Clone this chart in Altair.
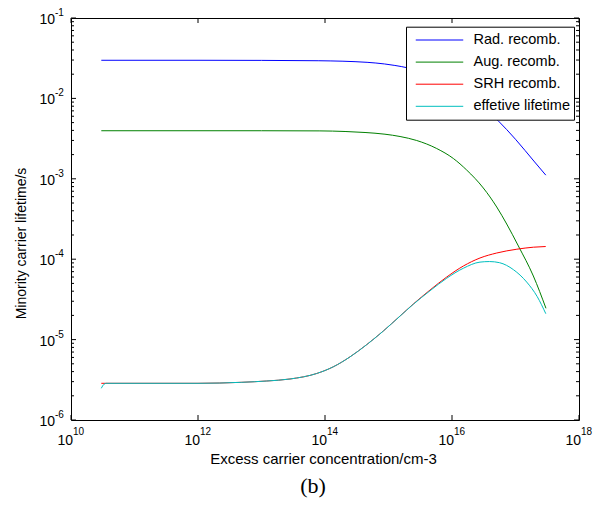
import altair as alt
import pandas as pd

FONT = "Liberation Sans"

series_names = ["Rad. recomb.", "Aug. recomb.", "SRH recomb.", "effetive lifetime"]
series_colors = ["#0000ff", "#008000", "#ff0000", "#00bfbf"]

rad_n = [3e10, 1e12, 1e13, 8e13, 4.6e14, 8.7e14, 1.26e15, 2e15, 5e15, 1e16, 2e16, 3.5e16, 5.3e16, 1e17, 2e17, 3e17]
rad_tau = [0.0298, 0.0298, 0.0297, 0.0294, 0.0281, 0.0268, 0.0257, 0.0240, 0.0195, 0.0150, 0.0102, 0.0072, 0.0053, 0.0031, 0.00162, 0.00111]

aug_n = [3e10, 1e13, 8.3e13, 2.07e14, 4.27e14, 8.8e14, 1.52e15, 2.78e15, 5.74e15, 1.05e16, 1.7e16, 3.11e16, 5.06e16, 7.27e16, 1.11e17, 1.91e17, 3.02e17]
aug_tau = [3.96e-3, 3.96e-3, 3.943e-3, 3.876e-3, 3.767e-3, 3.586e-3, 3.357e-3, 2.995e-3, 2.381e-3, 1.789e-3, 1.287e-3, 7.69e-4, 4.46e-4, 2.74e-4, 1.46e-4, 6.18e-5, 2.45e-5]

srh_n = [3e10, 1e12, 4.88e12, 1.21e13, 2.81e13, 7.4e13, 1.35e14, 2.48e14, 4.54e14, 8.28e14, 1.52e15, 2.46e15, 4.51e15, 8.26e15, 1.51e16, 2.76e16, 5.06e16, 1.05e17, 1.91e17, 2.99e17]
srh_tau = [2.86e-6, 2.86e-6, 2.944e-6, 3.056e-6, 3.236e-6, 3.789e-6, 4.588e-6, 6.108e-6, 8.665e-6, 1.279e-5, 1.966e-5, 2.772e-5, 4.139e-5, 6.005e-5, 8.23e-5, 1.035e-4, 1.194e-4, 1.331e-4, 1.41e-4, 1.438e-4]

eff_n = [3e10, 3.3e10, 3.6e10, 1e12, 4.88e12, 1.21e13, 2.81e13, 7.4e13, 1.35e14, 2.48e14, 4.54e14, 8.28e14, 1.52e15, 2.46e15, 4.51e15, 8.26e15, 1.51e16, 2.76e16, 3.9e16, 5.6e16, 9.3e16, 1.5e17, 2.2e17, 3.0e17]
eff_tau = [2.48e-6, 2.78e-6, 2.86e-6, 2.86e-6, 2.943e-6, 3.055e-6, 3.235e-6, 3.787e-6, 4.585e-6, 6.1e-6, 8.65e-6, 1.276e-5, 1.96e-5, 2.75e-5, 4.05e-5, 5.8e-5, 7.72e-5, 9.2e-5, 9.35e-5, 9.05e-5, 7.4e-5, 5.2e-5, 3.42e-5, 2.1e-5]

x_tick_values = [1e10, 1e12, 1e14, 1e16, 1e18]
x_tick_exps = ["10", "12", "14", "16", "18"]
y_tick_values = [1e-6, 1e-5, 1e-4, 1e-3, 1e-2, 1e-1]
y_tick_exps = ["-6", "-5", "-4", "-3", "-2", "-1"]
minor_mults = [2, 3, 4, 5, 6, 7, 8, 9]
minor_decades = [1e-6, 1e-5, 1e-4, 1e-3, 1e-2]

rows = []
for name, xs, ys in zip(series_names, [rad_n, aug_n, srh_n, eff_n], [rad_tau, aug_tau, srh_tau, eff_tau]):
    for i, (a, b) in enumerate(zip(xs, ys)):
        rows.append({"series": name, "n": a, "tau": b, "k": i})
df = pd.DataFrame(rows)

xt = pd.DataFrame({"v": x_tick_values, "e": x_tick_exps, "b": ["10"] * len(x_tick_values)})
yt = pd.DataFrame({"v": y_tick_values, "e": y_tick_exps, "b": ["10"] * len(y_tick_values)})
ym = pd.DataFrame({"v": [m * d for d in minor_decades for m in minor_mults]})

W, H = 508, 402
xscale = alt.Scale(type="log", domain=[1e10, 1e18], nice=False)
yscale = alt.Scale(type="log", domain=[1e-6, 1e-1], nice=False)

x_axis = alt.Axis(
    title="Excess carrier concentration/cm-3", domain=False, ticks=False, labels=False, grid=False,
    titleX=252, titleY=43.5, titleBaseline="alphabetic", titleAlign="center",
    titleFont=FONT, titleFontSize=15, titleFontWeight="normal", titleColor="black")
y_axis = alt.Axis(
    title="Minority carrier lifetime/s", domain=False, ticks=False, labels=False, grid=False,
    titleX=-45.5, titleY=225, titleAngle=270, titleBaseline="alphabetic", titleAlign="center",
    titleFont=FONT, titleFontSize=14, titleFontWeight="normal", titleColor="black")

lines = alt.Chart(df).mark_line(strokeWidth=1, interpolate="monotone").encode(
    x=alt.X("n:Q", scale=xscale, axis=x_axis),
    y=alt.Y("tau:Q", scale=yscale, axis=y_axis),
    color=alt.Color("series:N", scale=alt.Scale(domain=series_names, range=series_colors),
                    legend=alt.Legend(
                        title=None, orient="none", legendX=335, legendY=8.7,
                        symbolType="stroke", symbolSize=2256, symbolStrokeWidth=1,
                        padding=4, clipHeight=18.6, rowPadding=3.1, symbolOffset=5, labelOffset=9.5,
                        strokeColor="black", fillColor="white",
                        labelFont=FONT, labelFontSize=14.5, labelColor="black")),
    order="k:Q",
)

def xrule(y1, y2):
    return alt.Chart(xt).mark_rule(color="black", strokeWidth=1).encode(
        x=alt.X("v:Q", scale=xscale, axis=x_axis), y=alt.value(y1), y2=alt.value(y2))

def yrule(data, x1, x2):
    return alt.Chart(data).mark_rule(color="black", strokeWidth=1).encode(
        y=alt.Y("v:Q", scale=yscale, axis=y_axis), x=alt.value(x1), x2=alt.value(x2))

ticks = [
    xrule(H, H - 5), xrule(0, 5),
    yrule(yt, 0, 5), yrule(yt, W, W - 5),
    yrule(ym, 0, 3), yrule(ym, W, W - 3),
]

x_base = alt.Chart(xt).mark_text(align="right", baseline="alphabetic", dx=2, font=FONT, fontSize=14, color="black").encode(
    x=alt.X("v:Q", scale=xscale, axis=x_axis), y=alt.value(H + 25), text="b:N")
x_exp = alt.Chart(xt).mark_text(align="left", baseline="alphabetic", dx=2, font=FONT, fontSize=10, color="black").encode(
    x=alt.X("v:Q", scale=xscale, axis=x_axis), y=alt.value(H + 14.5), text="e:N")
y_base = alt.Chart(yt).mark_text(align="right", baseline="alphabetic", dy=6, font=FONT, fontSize=14, color="black").encode(
    y=alt.Y("v:Q", scale=yscale, axis=y_axis), x=alt.value(-16), text="b:N")
y_exp = alt.Chart(yt).mark_text(align="left", baseline="alphabetic", dy=-2, font=FONT, fontSize=10, color="black").encode(
    y=alt.Y("v:Q", scale=yscale, axis=y_axis), x=alt.value(-16), text="e:N")

cap = alt.Chart(pd.DataFrame({"t": ["(b)"]})).mark_text(
    font="Liberation Serif", fontSize=22, align="center", baseline="alphabetic", color="black").encode(
    x=alt.value(242), y=alt.value(475), text="t:N")

chart = alt.layer(lines, *ticks, x_base, x_exp, y_base, y_exp, cap).properties(
    width=W, height=H,
    padding={"left": 63, "top": 10, "right": 15, "bottom": 78},
    autosize=alt.AutoSizeParams(type="none"),
).configure_view(stroke="black", strokeWidth=1)

chart.save("out.html", embed_options={"renderer": "svg", "actions": False})
